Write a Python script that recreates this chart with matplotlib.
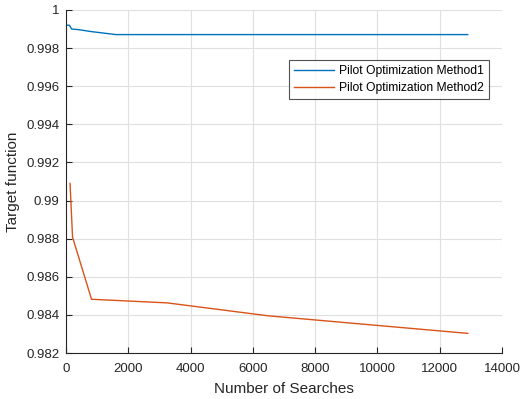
import numpy as np
import matplotlib.pyplot as plt

# data
searches1 = [20, 110, 180, 400, 800, 1600, 3200, 6400, 12900]
method1 = [0.99920, 0.99920, 0.99900, 0.99897, 0.99887, 0.99871, 0.99871, 0.99871, 0.99871]
searches2 = [130, 210, 820, 3250, 6500, 12900]
method2 = [0.99090, 0.98808, 0.98482, 0.98463, 0.98395, 0.98303]

yticks = [0.982, 0.984, 0.986, 0.988, 0.99, 0.992, 0.994, 0.996, 0.998, 1]
ytick_labels = ['0.982', '0.984', '0.986', '0.988', '0.99', '0.992', '0.994', '0.996', '0.998', '1']

plt.rcParams['font.family'] = ['Liberation Sans', 'DejaVu Sans']

fig = plt.figure(figsize=(5.2, 3.99), dpi=100)
ax = fig.add_axes([66/520, 1 - 353/399, 436/520, 343/399])

ax.plot(searches1, method1, color='#0072BD', lw=1.0, label='Pilot Optimization Method1')
ax.plot(searches2, method2, color='#D95319', lw=1.0, label='Pilot Optimization Method2')

ax.set_xlim(0, 14000)
ax.set_ylim(0.982, 1)
ax.set_xticks(np.arange(0, 14001, 2000))
ax.set_yticks(yticks)
ax.set_yticklabels(ytick_labels)
ax.grid(True, color='#DFDFDF', lw=0.8)
ax.set_axisbelow(True)

for s in ['top', 'right']:
    ax.spines[s].set_visible(False)
for s in ['left', 'bottom']:
    ax.spines[s].set_color('#262626')
    ax.spines[s].set_linewidth(0.8)
ax.tick_params(direction='in', length=4, width=0.8, colors='#262626', labelsize=9.5)
ax.tick_params(axis='x', pad=7)
ax.tick_params(axis='y', pad=4.5)

ax.set_xlabel('Number of Searches', fontsize=11, color='#262626', labelpad=5)
ax.set_ylabel('Target function', fontsize=11, color='#262626', labelpad=5)

leg = ax.legend(loc='upper right', fontsize=8.7, frameon=True, fancybox=False,
                edgecolor='#262626', handlelength=3.3, borderpad=0.42,
                labelspacing=0.42, handletextpad=0.42, borderaxespad=0)
leg.set_bbox_to_anchor((489/520, 1 - 60/399), transform=fig.transFigure)
leg.get_frame().set_linewidth(0.8)

fig.savefig('out.png', dpi=100)
